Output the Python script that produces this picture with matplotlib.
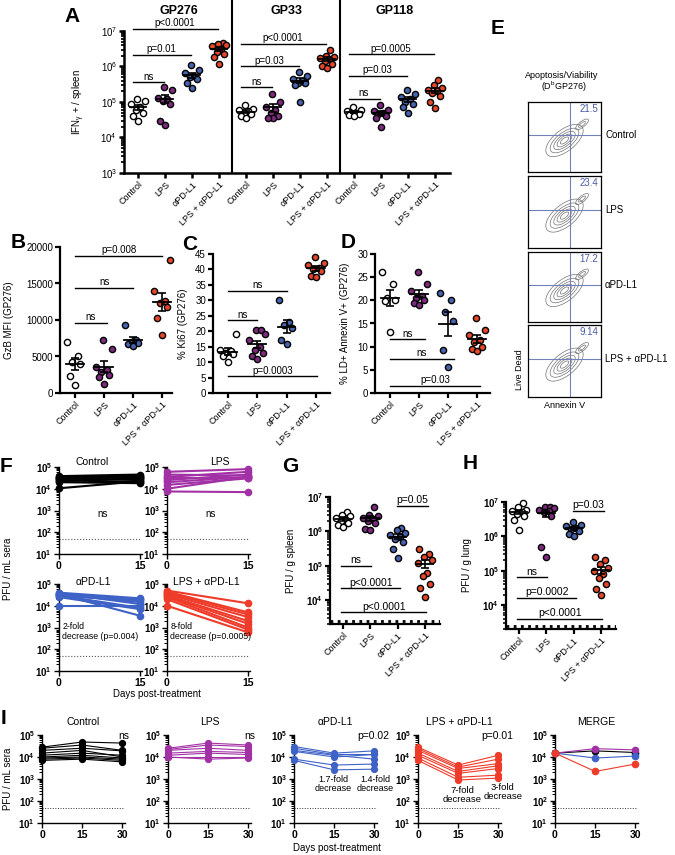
import numpy as np
import matplotlib.pyplot as plt
from matplotlib.patches import Ellipse
from matplotlib.ticker import LogLocator, NullFormatter, FuncFormatter

plt.rcParams['font.family'] = ['Liberation Sans', 'DejaVu Sans']
plt.rcParams['mathtext.fontset'] = 'custom'
plt.rcParams['mathtext.rm'] = 'Liberation Sans'
plt.rcParams['mathtext.it'] = 'Liberation Sans:italic'
plt.rcParams['mathtext.bf'] = 'Liberation Sans:bold'

# ---------------- data ----------------
groups = ['Control', 'LPS', 'αPD-L1', 'LPS + αPD-L1']
colors = ['white', '#7e2a7e', '#4564ad', '#e6472b']
line_colors = ['black', '#a231a6', '#3e62c6', '#ef3b29']

epitopes = ['GP276', 'GP33', 'GP118']
ifng_gp276 = [[1.2e5, 1.1e5, 9e4, 7e4, 6e4, 5e4, 4e4, 3e4],
              [2.7e5, 2.2e5, 1.3e5, 1.2e5, 1.1e5, 9e4, 3e4, 2.2e4],
              [1.1e6, 8e5, 6.5e5, 5.5e5, 5e5, 4.5e5, 3.5e5, 2.5e5],
              [4.6e6, 4.3e6, 4e6, 3.7e6, 3.2e6, 2.6e6, 2.2e6, 1.8e6, 1.2e6]]
ifng_gp33 = [[8e4, 6.5e4, 6e4, 5.5e4, 5e4, 4.5e4, 4e4, 3.5e4],
             [1.7e5, 1e5, 7e4, 6e4, 5e4, 4e4, 3.5e4, 3.5e4],
             [7e5, 5.5e5, 4.5e5, 4e5, 3.5e5, 3.5e5, 3e5, 1e5],
             [2.9e6, 2e6, 1.8e6, 1.7e6, 1.6e6, 1.4e6, 1.2e6, 1e6, 9e5]]
ifng_gp118 = [[7e4, 6e4, 5.5e4, 5e4, 5e4, 4.5e4, 4.3e4, 4e4],
              [8e4, 6e4, 5.5e4, 5e4, 4.5e4, 4e4, 3.5e4, 2e4],
              [2.2e5, 1.7e5, 1.4e5, 1.2e5, 1e5, 9e4, 7e4, 5e4],
              [4.2e5, 3e5, 2.5e5, 2.2e5, 2e5, 1.8e5, 1.5e5, 1e5, 6.8e4]]

gzb_mfi = [[7000, 5000, 4200, 4000, 2300, 1100],
           [7300, 6000, 3600, 3200, 2900, 2500, 2200, 1200],
           [9300, 7300, 7000, 6800, 6700, 6500],
           [18200, 14000, 12600, 12300, 11800, 10300, 8000]]
ki67 = [[19, 14, 13.5, 13, 12.5, 12, 10],
        [20.5, 20.5, 19, 17, 15, 14, 13, 12, 11],
        [30, 23, 22, 21, 17, 16],
        [44, 42, 41.5, 40.5, 40, 39.5, 38, 37.5]]
ld_annexin = [[26.2, 23.5, 20.5, 20, 19.8, 13.2],
              [26.2, 23.5, 22, 21, 20.5, 20, 19.5, 19],
              [21.5, 20, 17.5, 15.5, 9.2, 5.6],
              [16.2, 13.5, 12.5, 11.5, 11, 10, 9.5, 9]]

flow_pct = ['21.5', '23.4', '17.2', '9.14']

f_day0 = [[3.8e4, 3.5e4, 3.2e4, 3e4, 2.8e4, 2.5e4, 2.2e4, 2e4, 1.05e4],
          [6e4, 4.5e4, 3.5e4, 3e4, 2.5e4, 2e4, 1.5e4, 1e4, 7.5e3],
          [4e4, 3.8e4, 3.6e4, 3.4e4, 3.2e4, 3e4, 2.8e4, 2.5e4, 1e4],
          [5e4, 4.5e4, 4e4, 3.5e4, 3e4, 2.8e4, 2.5e4, 2e4, 1e4]]
f_day15 = [[4.5e4, 3.2e4, 4e4, 2.5e4, 3.5e4, 2e4, 3e4, 1.8e4, 2.2e4],
           [8e4, 4e4, 6e4, 3e4, 4.5e4, 3.5e4, 3e4, 3.5e4, 7e3],
           [2.2e4, 1.2e4, 2e4, 3.5e3, 1.5e4, 8e3, 1.8e4, 7e3, 1e4],
           [1.3e4, 5e3, 4e3, 3e3, 2e3, 1.5e3, 1e3, 8e2, 6e2]]

pfu_spleen = [[3.7e6, 3e6, 2.8e6, 2.5e6, 2.2e6, 2e6, 1.8e6, 1.5e6, 1.35e6],
              [5.2e6, 3e6, 2.8e6, 2.5e6, 2.3e6, 2e6, 1.8e6, 1.2e6, 1.1e6],
              [1.25e6, 1.1e6, 9e5, 8e5, 7e5, 6e5, 5e5, 3e5, 1.7e5],
              [3e5, 2.2e5, 1.8e5, 1.5e5, 1.2e5, 6e4, 5e4, 3e4, 2.2e4, 1.25e4]]
pfu_lung = [[9.5e6, 7e6, 6e6, 5.5e6, 5e6, 4.5e6, 4e6, 3e6, 1.5e6],
            [7e6, 7e6, 6.5e6, 6e6, 5.5e6, 5e6, 4e6, 4.9e5, 2.5e5],
            [2.6e6, 2.2e6, 2e6, 1.8e6, 1.6e6, 1.4e6, 1.2e6, 1e6],
            [2.5e5, 2e5, 1.6e5, 1.2e5, 1e5, 8e4, 6e4, 4e4, 3e4, 2e4]]

i_days = [0, 15, 30]
i_control = [[2.8e4, 4.8e4, 4.3e4], [2.5e4, 3.5e4, 2e4], [2e4, 2.5e4, 1.9e4],
             [1.5e4, 2e4, 1e4], [1.2e4, 1.5e4, 1.2e4], [1e4, 1.2e4, 9e3],
             [9e3, 1e4, 8e3], [8e3, 9e3, 7e3], [7e3, 8e3, 6e3]]
i_lps = [[2.5e4, 4.3e4, 3.5e4], [2.2e4, 3.5e4, 3e4], [2e4, 2.5e4, 2e4],
         [1.5e4, 1.8e4, 1.6e4], [1.2e4, 1.5e4, 1.3e4], [1e4, 1e4, 1e4],
         [1e4, 8e3, 9e3]]
i_apdl1 = [[3e4, 1.5e4, 1.9e4], [2.5e4, 1.3e4, 1.3e4], [2e4, 1.2e4, 8e3],
           [1.8e4, 1e4, 1.3e4], [8e3, 4.3e3, 4.8e3], [7e3, 2.6e3, 2.8e3]]
i_combo = [[2.8e4, 4.3e3, 1.2e4], [2.4e4, 3.5e3, 8e3], [2e4, 3e3, 5e3],
           [1.5e4, 2.2e3, 4e3], [1.2e4, 1.8e3, 3e3], [9e3, 1.2e3, 1.5e3],
           [7e3, 9e2, 1.1e3]]
i_merge = [[1.5e4, 1.9e4, 1.6e4], [1.5e4, 2.4e4, 2.1e4],
           [1.5e4, 9e3, 1.1e4], [1.5e4, 2.2e3, 4.8e3]]

# ---------------- helpers ----------------
W, H = 675, 855
fig = plt.figure(figsize=(6.75, 8.55), dpi=100)

JITTER = [0.0, -0.18, 0.18, -0.09, 0.09, -0.27, 0.27, -0.04, 0.13, -0.22]


def add_ax(x0, y0, x1, y1):
    return fig.add_axes([x0 / W, 1 - y1 / H, (x1 - x0) / W, (y1 - y0) / H])


def style(ax, lw=1.5, fs=7):
    for s in ['top', 'right']:
        ax.spines[s].set_visible(False)
    for s in ['left', 'bottom']:
        ax.spines[s].set_linewidth(lw)
    ax.tick_params(width=lw, length=3.5, labelsize=fs, pad=1.5)
    ax.tick_params(which='minor', width=lw * 0.7, length=2)
    ax.patch.set_alpha(0)


def log_y(ax, lo, hi, bold=False):
    ax.set_yscale('log')
    ax.set_ylim(lo, hi)
    ax.yaxis.set_major_locator(LogLocator(base=10, numticks=10))
    ax.yaxis.set_minor_locator(LogLocator(base=10, subs=np.arange(2, 10), numticks=20))
    ax.yaxis.set_minor_formatter(NullFormatter())
    if bold:
        ax.yaxis.set_major_formatter(FuncFormatter(
            lambda v, p: r'$\mathbf{10^{%d}}$' % round(np.log10(v))))


def dots(ax, x, vals, color, s=20):
    vals = np.asarray(vals, float)
    n = len(vals)
    off = np.zeros(n)
    off[np.argsort(vals)] = [JITTER[k % len(JITTER)] for k in range(n)]
    ax.scatter(x + off, vals, s=s, facecolor=color, edgecolor='black',
               linewidth=1.0, zorder=3, clip_on=False)
    m = vals.mean()
    se = vals.std(ddof=1) / np.sqrt(n)
    ax.plot([x - 0.3, x + 0.3], [m, m], color='black', lw=1.3, zorder=4)
    ax.errorbar(x, m, yerr=se, color='black', capsize=3, elinewidth=1.2,
                capthick=1.2, zorder=4)


def sig(ax, x0, x1, y, label, fs=7):
    ax.plot([x0, x1], [y, y], color='black', lw=1.0, clip_on=False, zorder=2)
    ax.annotate(label, ((x0 + x1) / 2, y), xytext=(0, 0.5),
                textcoords='offset points', ha='center', va='bottom', fontsize=fs,
                annotation_clip=False)


def cat_ticks(ax, labels, fs=6.5):
    ax.set_xticks(range(len(labels)))
    ax.set_xticklabels(labels, rotation=45, ha='right', rotation_mode='anchor',
                       fontsize=fs)


def letter(x, y, t):
    fig.text(x / W, 1 - y / H, t, fontsize=15, fontweight='bold',
             ha='center', va='center')


# ---------------- A ----------------
axA = add_ax(124, 31, 450, 173)
style(axA, 1.8)
log_y(axA, 1e3, 1e7)
axA.set_xlim(-0.52, 11.56)
for e, data in enumerate([ifng_gp276, ifng_gp33, ifng_gp118]):
    for g in range(4):
        dots(axA, 4 * e + g, data[g], colors[g])
    axA.text(4 * e + 1.5, 1.14, epitopes[e], transform=axA.get_xaxis_transform(),
             ha='center', va='center', fontsize=9, fontweight='bold')
for xd in [3.5, 7.5]:
    axA.axvline(xd, 0, 1.22, color='black', lw=1.5, clip_on=False)
sigs_a = [(0, 3, 1.14e7, 'p<0.0001'), (0, 2, 2.1e6, 'p=0.01'), (0, 1, 3.6e5, 'ns'),
          (4, 7, 4.3e6, 'p<0.0001'), (4, 6, 1.0e6, 'p=0.03'), (4, 5, 2.6e5, 'ns'),
          (8, 11, 2.2e6, 'p=0.0005'), (8, 10, 5.4e5, 'p=0.03'), (8, 9, 1.2e5, 'ns')]
for i, j, y, t in sigs_a:
    sig(axA, i - 0.2, j - 0.05, y, t)
cat_ticks(axA, groups * 3)
axA.set_ylabel(r'IFN$_\mathregular{γ}$ + / spleen', fontsize=7)
axA.yaxis.set_label_coords(-0.113, 0.5)
letter(72, 17, 'A')

# ---------------- B, C, D ----------------
bcd = [
    ((60, 247, 172, 393), gzb_mfi, (0, 20000), [0, 5000, 10000, 15000, 20000],
     'GzB MFI (GP276)', -0.41, (-0.52, 3.34),
     [(0, 3, 18800, 'p=0.008'), (0, 2, 14400, 'ns'), (0, 1.1, 9600, 'ns')], 'B', (18, 243)),
    ((213, 254, 330, 393), ki67, (0, 45), list(range(0, 46, 5)),
     '% Ki67 (GP276)', -0.21, (-0.51, 3.48),
     [(0, 2, 33, 'ns'), (0, 1, 23.5, 'ns'), (0, 3.05, 5.4, 'p=0.0003')], 'C', (190, 245)),
    ((375, 254, 490, 393), ld_annexin, (0, 30), list(range(0, 31, 5)),
     '% LD+ Annexin V+ (GP276)', -0.22, (-0.52, 3.45),
     [(0, 1.2, 11.6, 'ns'), (0, 2.2, 7.4, 'ns'), (0, 3.1, 1.6, 'p=0.03')], 'D', (348, 242)),
]
for box, data, ylim, yticks, ylab, lx, xlim, sigs, let, lpos in bcd:
    ax = add_ax(*box)
    style(ax, 1.6)
    ax.set_ylim(*ylim)
    ax.set_yticks(yticks)
    ax.set_xlim(*xlim)
    for g in range(4):
        dots(ax, g, data[g], colors[g])
    for i, j, y, t in sigs:
        sig(ax, i, j, y, t)
    cat_ticks(ax, groups)
    ax.set_ylabel(ylab, fontsize=7)
    ax.yaxis.set_label_coords(lx, 0.5)
    letter(lpos[0], lpos[1], let)

# ---------------- E ----------------
letter(498, 28, 'E')
fig.text(562 / W, 1 - 75 / H, 'Apoptosis/Viability', fontsize=6.5, ha='center', va='center')
fig.text(564 / W, 1 - 87 / H, r'(D$^\mathregular{b}$GP276)', fontsize=6.5,
         ha='center', va='center')
e_rows = [(102, 172), (176, 248), (252, 322), (325, 397)]
quad_col = '#7282b8'
for k, (y0, y1) in enumerate(e_rows):
    ax = add_ax(528, y0, 601, y1)
    ax.set_xlim(0, 1)
    ax.set_ylim(0, 1)
    ax.set_xticks([])
    ax.set_yticks([])
    for s in ax.spines.values():
        s.set_linewidth(0.9)
    for w, h in [(0.62, 0.3), (0.48, 0.22), (0.36, 0.16), (0.25, 0.11), (0.14, 0.06)]:
        ax.add_patch(Ellipse((0.5, 0.45), w, h, angle=40, fill=False,
                             edgecolor='0.45', lw=0.5))
    for w, h in [(0.22, 0.08), (0.12, 0.04)]:
        ax.add_patch(Ellipse((0.74, 0.68), w, h, angle=40, fill=False,
                             edgecolor='0.45', lw=0.5))
    ax.axvline(0.575, color=quad_col, lw=0.8)
    ax.axhline(0.53, color=quad_col, lw=0.8)
    ax.text(0.96, 0.97, flow_pct[k], transform=ax.transAxes, ha='right', va='top',
            fontsize=7, color='#4a5aa5')
    fig.text(605 / W, 1 - ((y0 + y1) / 2 - 2) / H, groups[k], fontsize=7,
             ha='left', va='center')
fig.text(520 / W, 1 - 370 / H, 'Live Dead', rotation=90, fontsize=6.5,
         ha='center', va='center')
fig.text(565 / W, 1 - 405 / H, 'Annexin V', fontsize=6.5, ha='center', va='center')

# ---------------- F ----------------
letter(6, 467, 'F')
f_boxes = [(59, 467, 142, 554), (167, 467, 250, 554),
           (59, 584, 142, 671), (167, 584, 250, 671)]
f_title_x = [0.4, 0.64, 0.41, 0.48]
f_notes = ['ns', 'ns', '2-fold\ndecrease (p=0.004)', '8-fold\ndecrease (p=0.0005)']
for g in range(4):
    ax = add_ax(*f_boxes[g])
    style(ax, 1.0, 7)
    log_y(ax, 10, 1e5, bold=True)
    ax.set_xlim(0, 15.4)
    for a, b in zip(f_day0[g], f_day15[g]):
        ax.plot([0, 15], [a, b], '-o', color=line_colors[g], lw=1.5, ms=4.5,
                clip_on=False, zorder=3)
    ax.axhline(50, color='0.35', lw=0.8, ls=':')
    ax.set_xticks([0, 15])
    for lab in ax.get_xticklabels():
        lab.set_fontweight('bold')
        lab.set_fontsize(7.5)
    ytit = 1.06 if g < 2 else 1.02
    ax.text(f_title_x[g], ytit, groups[g], transform=ax.transAxes, ha='center',
            va='center', fontsize=7.5)
    if g < 2:
        ax.text(0.52, 0.46, f_notes[g], transform=ax.transAxes, ha='center',
                va='center', fontsize=7)
    else:
        ax.text(0.04, 0.56, f_notes[g], transform=ax.transAxes, ha='left',
                va='top', fontsize=6.3, linespacing=1.1)
fig.text(8 / W, 1 - 569 / H, 'PFU / mL sera', rotation=90, fontsize=7,
         ha='center', va='center')
fig.text(157 / W, 1 - 694 / H, 'Days post-treatment', fontsize=7, ha='center', va='center')

# ---------------- G, H ----------------
gh = [((330, 497, 440, 624), pfu_spleen, 'PFU / g spleen', 'G', (290, 467)),
      ((506, 502, 616, 629), pfu_lung, 'PFU / g lung', 'H', (470, 463))]
sigs_g = [(1.98, 3.1, 5.5e6, 'p=0.05'), (-0.07, 1.03, 1.0e5, 'ns'),
          (-0.07, 2.1, 2.2e4, 'p<0.0001'), (-0.07, 3.04, 4.4e3, 'p<0.0001')]
sigs_h = [(1.98, 3.1, 5.5e6, 'p=0.03'), (-0.07, 1.03, 6.4e4, 'ns'),
          (-0.07, 2.1, 1.6e4, 'p=0.0002'), (-0.07, 3.04, 3.9e3, 'p<0.0001')]
for (box, data, ylab, let, lpos), sigs in zip(gh, [sigs_g, sigs_h]):
    ax = add_ax(*box)
    style(ax, 1.6, 7)
    log_y(ax, 2e3, 1e7, bold=True)
    ax.set_xlim(-0.48, 3.55)
    for g in range(4):
        dots(ax, g, data[g], colors[g])
    ax.axhline(2.5e3, color='black', lw=2.0, ls=(0, (1, 1.6)))
    for i, j, y, t in sigs:
        sig(ax, i, j, y, t, fs=7.5)
    cat_ticks(ax, groups)
    ax.set_ylabel(ylab, fontsize=7)
    ax.yaxis.set_label_coords(-0.31, 0.5)
    letter(lpos[0], lpos[1], let)

# ---------------- I ----------------
letter(3, 718, 'I')
i_x0 = [42, 168, 294, 418, 555]
i_titles = groups + ['MERGE']
i_sets = [i_control, i_lps, i_apdl1, i_combo]
i_notes = [[(0.98, 0.99, 'ns', 7.5)], [(0.98, 0.99, 'ns', 7.5)],
           [(0.95, 0.99, 'p=0.02', 7.5), (0.47, 0.44, '1.7-fold\ndecrease', 6.5),
            (0.98, 0.44, '1.4-fold\ndecrease', 6.5)],
           [(0.95, 0.99, 'p=0.01', 7.5), (0.53, 0.32, '7-fold\ndecrease', 6.8),
            (1.02, 0.35, '3-fold\ndecrease', 6.8)],
           []]
for k in range(5):
    ax = add_ax(i_x0[k], 735, i_x0[k] + 83, 823)
    style(ax, 1.0, 7)
    log_y(ax, 10, 1e5, bold=True)
    ax.set_xlim(0, 31)
    if k < 4:
        for row in i_sets[k]:
            ax.plot(i_days, row, '-o', color=line_colors[k], lw=0.8, ms=4.2,
                    clip_on=False, zorder=3)
    else:
        for g in range(4):
            ax.plot(i_days, i_merge[g], '-o', color=line_colors[g], lw=0.8, ms=4.5,
                    clip_on=False, zorder=3)
    ax.axhline(50, color='0.2', lw=0.7, ls=':')
    ax.set_xticks([0, 15, 30])
    for lab in ax.get_xticklabels():
        lab.set_fontweight('bold')
        lab.set_fontsize(7.5)
    ax.text(0.5, 1.15, i_titles[k], transform=ax.transAxes, ha='center',
            va='center', fontsize=7.5)
    for tx, ty, t, fs in i_notes[k]:
        ax.text(tx, ty, t, transform=ax.transAxes, ha='center', va='center',
                fontsize=fs, linespacing=1.05)
fig.text(8 / W, 1 - 779 / H, 'PFU / mL sera', rotation=90, fontsize=7,
         ha='center', va='center')
fig.text(337 / W, 1 - 848 / H, 'Days post-treatment', fontsize=7, ha='center', va='center')

fig.savefig('out.png', dpi=100)
